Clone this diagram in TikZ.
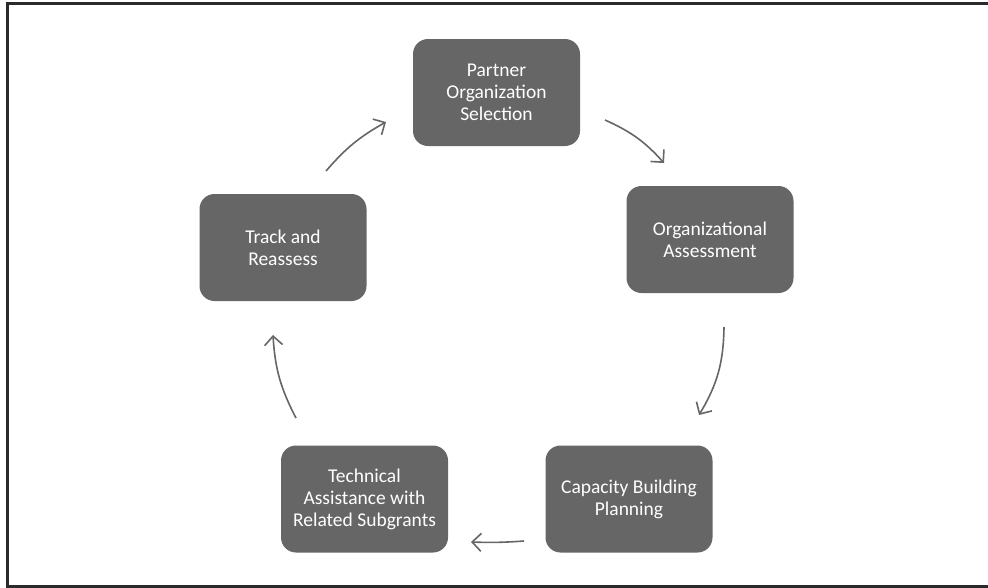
\documentclass[tikz,border=0pt]{standalone}
\usepackage{fontspec}
\setmainfont{Carlito}
\usetikzlibrary{arrows.meta}
\definecolor{boxgrey}{HTML}{666666}
\definecolor{arrowgrey}{HTML}{666666}
\definecolor{framegrey}{HTML}{2B2B2B}
\begin{document}
\begin{tikzpicture}[x=1pt,y=-1pt,
  stage/.style={draw=none, fill=boxgrey, rounded corners=15pt, minimum width=167pt, minimum height=107pt,
    text=white, align=center, inner sep=0pt, font=\fontsize{19.5}{22}\selectfont},
  flow/.style={draw=arrowgrey, line width=1.6pt, -{Straight Barb[length=9pt,width=18pt,line width=1.6pt]}}]
\useasboundingbox (0,0) rectangle (988,587);
\draw[framegrey, line width=3pt] (988,3) -- (7,3) -- (7,586) -- (988,586);
\node[stage] (pos) at (496.5,92.5) {Partner\\Organization\\Selection};
\node[stage] (oa) at (710,239.5) {Organizational\\Assessment};
\node[stage] (cbp) at (629,499) {Capacity Building\\Planning};
\node[stage] (ta) at (364.5,499) {Technical\\Assistance with\\Related Subgrants};
\node[stage] (tr) at (283,247.5) {Track and\\Reassess};
\coordinate (a1s) at (605,120); \coordinate (a1e) at (664,163);
\coordinate (a2s) at (724,327); \coordinate (a2e) at (699,415);
\coordinate (a3s) at (524,541); \coordinate (a3e) at (471,542);
\coordinate (a4s) at (296,418); \coordinate (a4e) at (273,335);
\coordinate (a5s) at (326,171); \coordinate (a5e) at (386,122);
\draw[flow] (a1s) to[bend left=12] (a1e);
\draw[flow] (a2s) to[bend left=15] (a2e);
\draw[flow] (a3s) to[bend left=3] (a3e);
\draw[flow] (a4s) to[bend left=12] (a4e);
\draw[flow] (a5s) to[bend left=10] (a5e);
\end{tikzpicture}
\end{document}
